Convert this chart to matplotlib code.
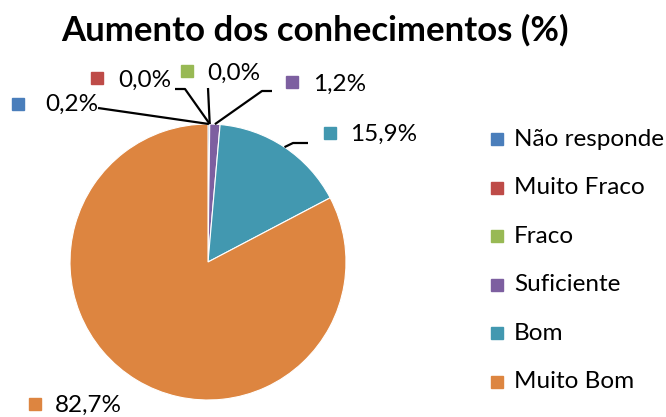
import matplotlib
matplotlib.use("Agg")
import matplotlib.pyplot as plt
import numpy as np

categories = ["Não responde", "Muito Fraco", "Fraco", "Suficiente", "Bom", "Muito Bom"]
values = [0.2, 0.0, 0.0, 1.2, 15.9, 82.7]
value_labels = ["0,2%", "0,0%", "0,0%", "1,2%", "15,9%", "82,7%"]
title = "Aumento dos conhecimentos (%)"
colors = ["#4A7EBB", "#BE4B48", "#98B954", "#7D5FA0", "#4298B0", "#DD8540"]

FONT = "Lato"
plt.rcParams["font.family"] = [FONT, "DejaVu Sans"]

W, H = 666, 417
fig = plt.figure(figsize=(W / 100, H / 100), dpi=100)

# pie axes: center (208,262) px, radius 138 px
cx, cy, r = 208, 262, 138
ax = fig.add_axes([(cx - r) / W, (H - cy - r) / H, 2 * r / W, 2 * r / H])

wedges, _ = ax.pie(values, colors=colors, startangle=90, counterclock=False,
                   radius=1, wedgeprops=dict(edgecolor="white", linewidth=0.8))
ax.set_xlim(-1, 1)
ax.set_ylim(-1, 1)
ax.set_aspect("equal")
ax.axis("off")

def d(px, py):
    return ((px - cx) / r, (cy - py) / r)

# label layout: (square px, text-left px, leader points px before the edge)
layout = [
    ((18, 104), (45, 104), [(98, 108)]),
    ((97, 78), (118, 80), [(175, 89), (185, 89)]),
    ((187, 71), (207, 73), [(208, 88)]),
    ((292, 82), (313, 84), [(272, 91), (262, 91)]),
    ((330, 133), (350, 134), [(308, 143), (293, 143)]),
    ((35, 404), (55, 405), None),
]

fs = 17.5
msz = 8.5
for w, lab, col, (sq, tx, lead) in zip(wedges, value_labels, colors, layout):
    sx, sy = d(*sq)
    ax.plot([sx], [sy], marker="s", markersize=msz, color=col, clip_on=False, linestyle="none")
    x0, y0 = d(*tx)
    ax.text(x0, y0, lab, fontsize=fs, ha="left", va="center", clip_on=False)
    if lead is not None:
        theta = np.deg2rad((w.theta1 + w.theta2) / 2)
        pts = [d(*p) for p in lead] + [(np.cos(theta), np.sin(theta))]
        xs, ys = zip(*pts)
        ax.plot(xs, ys, color="black", linewidth=1.6, clip_on=False, solid_capstyle="butt")

# legend (manual)
lx_sq, lx_tx = 497, 514
ly0, lstep = 139, 48.6
for i, (cat, col) in enumerate(zip(categories, colors)):
    y = ly0 + i * lstep
    sx, sy = d(lx_sq, y)
    ax.plot([sx], [sy], marker="s", markersize=msz, color=col, clip_on=False, linestyle="none")
    tx, ty = d(lx_tx, y)
    ax.text(tx, ty, cat, fontsize=fs, ha="left", va="center", clip_on=False)

fig.text(315 / W, 1 - 30 / H, title, fontsize=25, fontweight="bold", ha="center", va="center")

fig.savefig("out.png", dpi=100)
